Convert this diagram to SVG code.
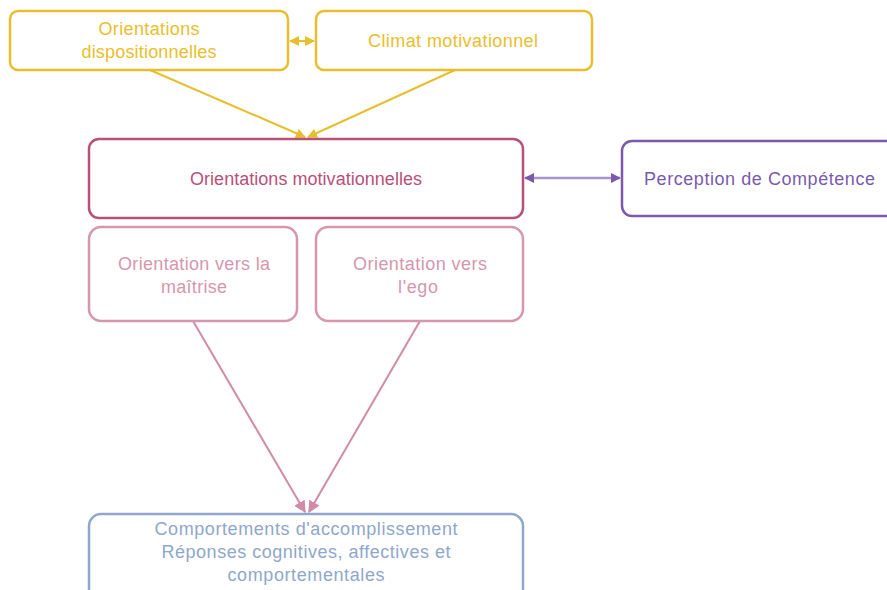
<svg xmlns="http://www.w3.org/2000/svg" width="887" height="590" viewBox="0 0 887 590">
<style>
text{font-family:"Liberation Sans",Arial,sans-serif;font-size:18px;text-anchor:middle}
.box{fill:#fff;stroke-width:2.5}
.y{stroke:#E9BE2C}.yt{fill:#E9BE2C}
.m{stroke:#B9507A}.mt{fill:#B9507A}
.p{stroke:#7B5AAE}.pt{fill:#7B5AAE}
.l{stroke:#D696AE}.lt{fill:#D696AE}
.b{stroke:#8EA7CB}.bt{fill:#8EA7CB}
</style>
<defs>
<marker id="ay" viewBox="0 0 10 10" refX="9" refY="5" markerWidth="10" markerHeight="10" markerUnits="userSpaceOnUse" orient="auto-start-reverse"><path d="M0,0L10,5L0,10z" fill="#E9BE2C"/></marker>
<marker id="ap" viewBox="0 0 10 10" refX="9" refY="5" markerWidth="10" markerHeight="10" markerUnits="userSpaceOnUse" orient="auto-start-reverse"><path d="M0,0L10,5L0,10z" fill="#7B5AAE"/></marker>
<marker id="al" viewBox="0 0 10 10" refX="9" refY="5" markerWidth="12" markerHeight="12" markerUnits="userSpaceOnUse" orient="auto"><path d="M0,0L10,5L0,10z" fill="#D08CA6"/></marker>
</defs>
<g id="connectors" fill="none" stroke-width="2">
<line x1="290" y1="41" x2="314" y2="41" stroke="#E9BE2C" marker-start="url(#ay)" marker-end="url(#ay)"/>
<line x1="150" y1="70" x2="305" y2="137" stroke="#E9BE2C" marker-end="url(#ay)"/>
<line x1="455" y1="70" x2="308" y2="137" stroke="#E9BE2C" marker-end="url(#ay)"/>
<line x1="525" y1="178" x2="620" y2="178" stroke="#A994CC" stroke-width="2.5" marker-start="url(#ap)" marker-end="url(#ap)"/>
<line x1="193" y1="321" x2="305" y2="512" stroke="#D08CA6" marker-end="url(#al)"/>
<line x1="420" y1="321" x2="309" y2="512" stroke="#D08CA6" marker-end="url(#al)"/>
</g>
<g id="n1"><rect class="box y" x="10" y="11" width="278" height="59" rx="8"/><text class="yt" x="149" y="35" textLength="101">Orientations</text><text class="yt" x="149" y="58" textLength="135">dispositionnelles</text></g>
<g id="n2"><rect class="box y" x="316" y="11" width="276" height="59" rx="8"/><text class="yt" x="453" y="47" textLength="170">Climat motivationnel</text></g>
<g id="n3"><rect class="box m" x="89" y="139" width="434" height="79" rx="10"/><text class="mt" x="306" y="185" textLength="232">Orientations motivationnelles</text></g>
<g id="n4"><rect class="box p" x="622" y="141" width="280" height="75" rx="10"/><text class="pt" x="644" y="185" style="text-anchor:start" textLength="231">Perception de Compétence</text></g>
<g id="n5"><rect class="box l" x="89" y="227" width="208" height="94" rx="12"/><text class="lt" x="194" y="270" textLength="152">Orientation vers la</text><text class="lt" x="194" y="293" textLength="66">maîtrise</text></g>
<g id="n6"><rect class="box l" x="316" y="227" width="207" height="94" rx="12"/><text class="lt" x="420" y="270" textLength="134">Orientation vers</text><text class="lt" x="418" y="293" textLength="40">l'ego</text></g>
<g id="n7"><rect class="box b" x="89" y="514" width="434" height="90" rx="12"/><text class="bt" x="306" y="535" textLength="303">Comportements d'accomplissement</text><text class="bt" x="306" y="558" textLength="289">Réponses cognitives, affectives et</text><text class="bt" x="306" y="581" textLength="157">comportementales</text></g>
</svg>
